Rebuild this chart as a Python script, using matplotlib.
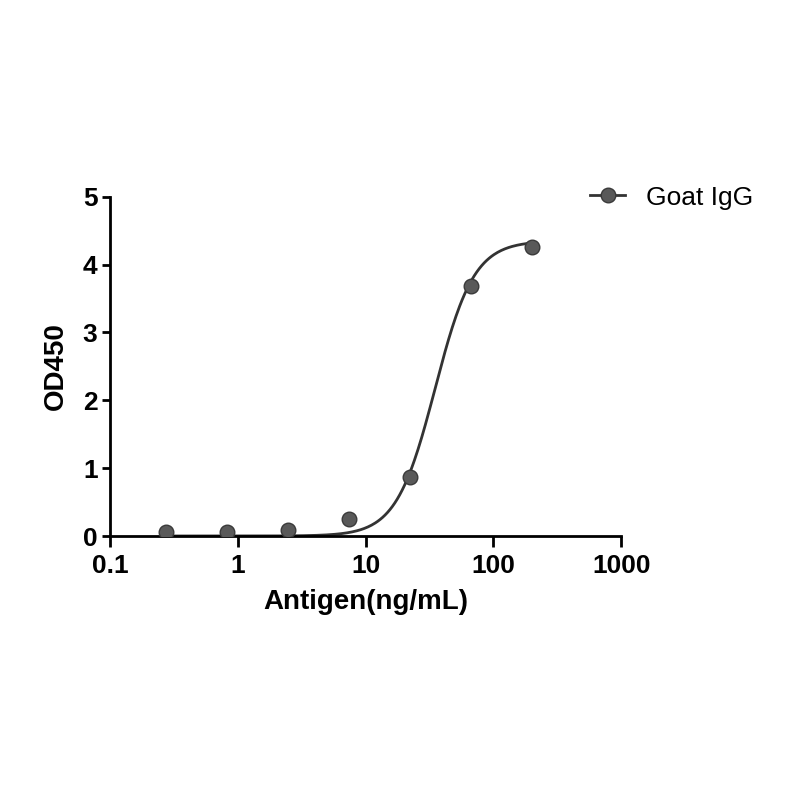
import numpy as np
import matplotlib
matplotlib.use("Agg")
import matplotlib.pyplot as plt

# Measured points (3-fold dilution series)
conc = [0.274, 0.823, 2.47, 7.41, 22.2, 66.7, 200.0]
od450 = [0.06, 0.06, 0.09, 0.25, 0.87, 3.68, 4.26]

# 4PL fit parameters
BOTTOM, TOP, EC50, HILL = 0.0, 4.35, 35.0, 2.85

xticks = [0.1, 1, 10, 100, 1000]
xticklabels = ["0.1", "1", "10", "100", "1000"]
yticks = [0, 1, 2, 3, 4, 5]

LINE = "#333333"
MARK = "#595959"

plt.rcParams.update({"font.family": "Liberation Sans"})

fig = plt.figure(figsize=(8, 8), dpi=100)
ax = fig.add_axes([0.1375, 0.33, 0.639, 0.424])

xs = np.logspace(np.log10(conc[0]), np.log10(conc[-1]), 300)
fit = BOTTOM + (TOP - BOTTOM) / (1 + (EC50 / xs) ** HILL)
ax.plot(xs, fit, color=LINE, lw=2.0, zorder=2)
ax.plot(conc, od450, "o", ms=10.5, color=MARK, mec="#3a3a3a", mew=1.0, zorder=3)

# legend handle drawn as line + marker
ax.plot([], [], "-o", color=LINE, mfc=MARK, mec="#3a3a3a", ms=10.5, lw=2.0,
        label="Goat IgG")
ax.legend(loc="center left", bbox_to_anchor=(0.7375, 0.753),
          bbox_transform=fig.transFigure, frameon=False, fontsize=19,
          handlelength=1.33, handletextpad=0.8, borderpad=0, borderaxespad=0)

ax.set_xscale("log")
ax.set_xlim(0.1, 1000)
ax.set_ylim(0, 5)
ax.set_xticks(xticks)
ax.set_xticklabels(xticklabels)
ax.xaxis.set_minor_locator(matplotlib.ticker.NullLocator())
ax.set_yticks(yticks)

for side in ("top", "right"):
    ax.spines[side].set_visible(False)
for side in ("left", "bottom"):
    ax.spines[side].set_linewidth(2.0)
    ax.spines[side].set_color("black")

ax.tick_params(axis="x", length=8, width=2.0, labelsize=19, pad=5)
ax.tick_params(axis="y", length=6, width=2.0, labelsize=19, pad=3)
for lab in ax.get_xticklabels() + ax.get_yticklabels():
    lab.set_fontweight("bold")

ax.set_xlabel("Antigen(ng/mL)", fontsize=20, fontweight="bold", labelpad=8)
ax.set_ylabel("OD450", fontsize=20, fontweight="bold", labelpad=10)

fig.savefig("out.png", dpi=100, facecolor="white")
